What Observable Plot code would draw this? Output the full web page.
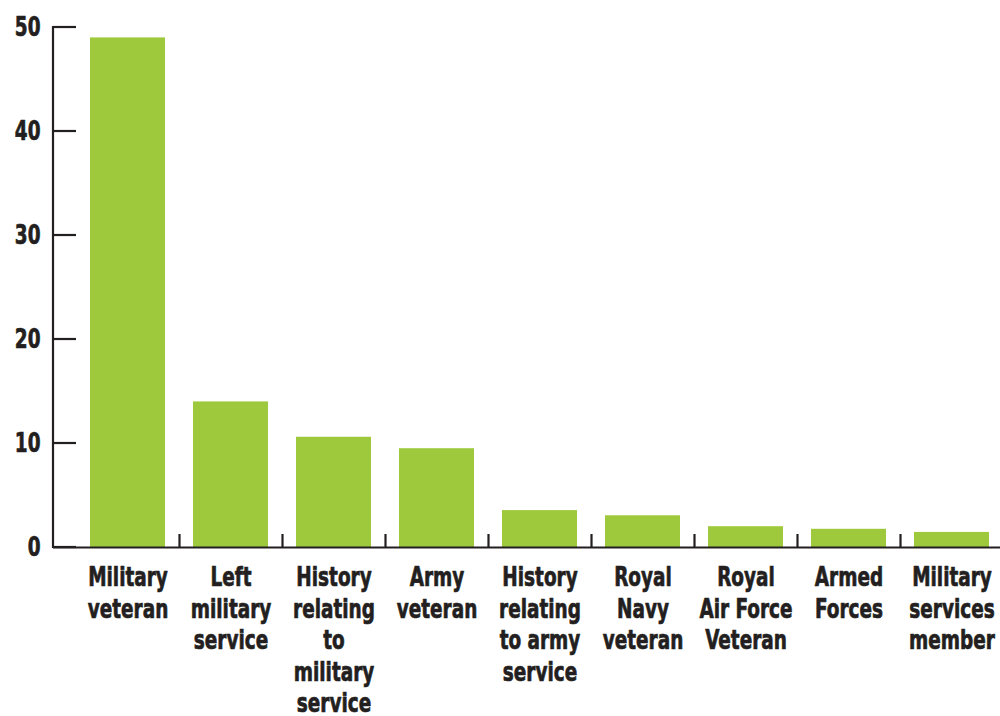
<!DOCTYPE html>
<html>
<head>
<meta charset="utf-8">
<script src="https://cdn.jsdelivr.net/npm/d3@7"></script>
<script src="https://cdn.jsdelivr.net/npm/@observablehq/plot@0.6"></script>
<style>
  body { margin: 0; background: #fff; }
</style>
</head>
<body>
<div id="chart"></div>
<script>
const categories = [
  "Military veteran",
  "Left military service",
  "History relating to military service",
  "Army veteran",
  "History relating to army service",
  "Royal Navy veteran",
  "Royal Air Force Veteran",
  "Armed Forces",
  "Military services member"
];
const labels = [
  "Military\nveteran",
  "Left\nmilitary\nservice",
  "History\nrelating\nto\nmilitary\nservice",
  "Army\nveteran",
  "History\nrelating\nto army\nservice",
  "Royal\nNavy\nveteran",
  "Royal\nAir Force\nVeteran",
  "Armed\nForces",
  "Military\nservices\nmember"
];
const values = [49, 14, 10.6, 9.5, 3.55, 3.05, 2.0, 1.75, 1.45];
const yTicks = [0, 10, 20, 30, 40, 50];

const data = categories.map((c, i) => ({category: c, value: values[i]}));

const ink = "#231f20";
const green = "#9fc93c";
const font = "'DejaVu Sans Condensed', 'DejaVu Sans', sans-serif";
const squeeze = 0.76;

const xRange = [76, 1003];
const step = (xRange[1] - xRange[0]) / categories.length;

function leftAxis(index, scales, values, dimensions) {
  const g = d3.create("svg:g").attr("stroke", ink).attr("stroke-width", 2.2);
  const x0 = dimensions.marginLeft;
  const yTop = scales.y(d3.max(yTicks));
  const yBot = scales.y(0);
  g.append("line").attr("x1", x0).attr("x2", x0).attr("y1", yTop - 1).attr("y2", yBot + 1);
  for (const t of yTicks) {
    g.append("line")
      .attr("x1", x0).attr("x2", xRange[0])
      .attr("y1", scales.y(t)).attr("y2", scales.y(t));
  }
  return g.node();
}

const chart = Plot.plot({
  width: 1000,
  height: 716,
  marginTop: 27,
  marginBottom: 169,
  marginLeft: 53,
  marginRight: 0,
  style: {
    fontFamily: font,
    fontWeight: "bold",
    fontSize: "27px",
    color: ink,
    background: "#fff",
    overflow: "visible"
  },
  x: {domain: categories, range: xRange, paddingInner: 0.27, paddingOuter: 0.135, label: null},
  y: {domain: [0, 50], label: null},
  marks: [
    Plot.barY(data, {x: "category", y: "value", fill: green}),
    Plot.ruleY([0], {stroke: ink, strokeWidth: 2.2}),
    leftAxis,
    Plot.ruleX(categories.slice(0, -1), {x: d => d, dx: step / 2, y1: 0, y2: 1.25, stroke: ink, strokeWidth: 2.2}),
    Plot.axisY(yTicks, {tickSize: 0, tickPadding: 13, fontSize: 27, fill: ink, label: null}),
    Plot.axisX({tickSize: 0, tickPadding: 16, fontSize: 27, lineHeight: 1.17, fill: ink, label: null,
      tickFormat: d => labels[categories.indexOf(d)]})
  ]
});

chart.querySelectorAll("text").forEach(t => {
  const tr = t.getAttribute("transform");
  if (tr) t.setAttribute("transform", tr + ` scale(${squeeze},1)`);
  t.setAttribute("stroke", ink);
  t.setAttribute("stroke-width", 0.7);
  t.setAttribute("stroke-linejoin", "round");
});

document.getElementById("chart").appendChild(chart);
</script>
</body>
</html>
